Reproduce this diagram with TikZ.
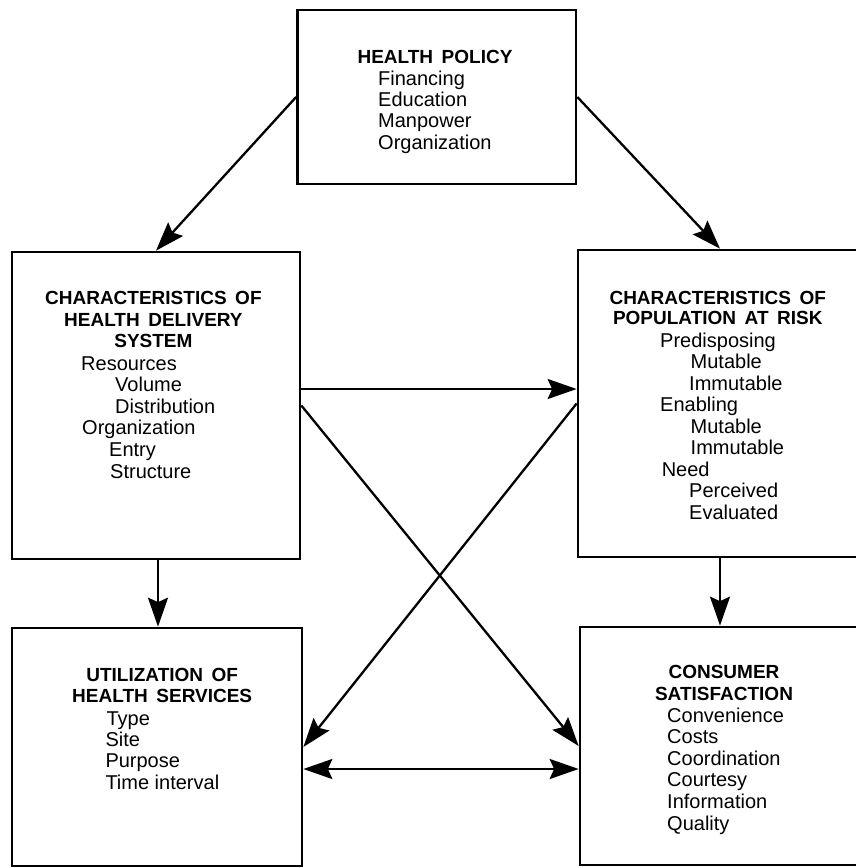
\documentclass[tikz,border=0pt]{standalone}
\usepackage{fontspec}
\setmainfont{Liberation Sans}
\usetikzlibrary{arrows.meta}
\begin{document}
\begin{tikzpicture}[x=1pt,y=1pt,
  box/.style={draw, line width=2.7pt, rectangle, inner sep=0pt},
  arr/.style={line width=2.3pt, -{Stealth[length=29pt,width=20pt,inset=4.5pt]}},
  arrtwo/.style={line width=2.3pt, {Stealth[length=29pt,width=20pt,inset=4.5pt]}-{Stealth[length=29pt,width=20pt,inset=4.5pt]}},
  hd/.style={inner sep=0pt, anchor=base, font=\fontsize{19}{21}\selectfont\bfseries},
  txt/.style={inner sep=0pt, anchor=base west, font=\fontsize{20}{21.5}\selectfont}]
\useasboundingbox (0,0) rectangle (856,-868);
\clip (0,0) rectangle (856,-868);
\fill[white] (0,0) rectangle (856,-868);
% boxes
\node[box, minimum width=278.5pt, minimum height=174pt] (hp) at (436.75,-97) {};
\node[box, minimum width=288pt, minimum height=307pt] (dsys) at (156,-405.5) {};
\node[box, minimum width=284pt, minimum height=307pt] (pop) at (720,-403.5) {};
\node[box, minimum width=290pt, minimum height=238pt] (util) at (157,-747) {};
\node[box, minimum width=282pt, minimum height=238pt] (sat) at (721,-746) {};
% headings
\node[hd] (hph) at (435,-63) {HEALTH\hspace{0.45em}POLICY};
\node[hd] (dh1) at (153.4,-304) {CHARACTERISTICS\hspace{0.45em}OF};
\node[hd] (dh2) at (153.4,-326) {HEALTH\hspace{0.45em}DELIVERY};
\node[hd] (dh3) at (153.4,-347) {SYSTEM};
\node[hd] (ph1) at (717.8,-304) {CHARACTERISTICS\hspace{0.45em}OF};
\node[hd] (ph2) at (717.8,-324.5) {POPULATION\hspace{0.45em}AT\hspace{0.45em}RISK};
\node[hd] (uh1) at (162.2,-681) {UTILIZATION\hspace{0.45em}OF};
\node[hd] (uh2) at (162.2,-702) {HEALTH\hspace{0.45em}SERVICES};
\node[hd] (sh1) at (724,-678) {CONSUMER};
\node[hd] (sh2) at (724,-700) {SATISFACTION};
% item lists
\foreach \t [count=\i] in {Financing,Education,Manpower,Organization}
  \node[txt] (hpt\i) at (378,{-85-21.4*(\i-1)}) {\t};
\foreach \x/\t [count=\i] in {81/Resources,115/Volume,115/Distribution,82/Organization,109/Entry,110/Structure}
  \node[txt] (dst\i) at (\x,{-370-21.6*(\i-1)}) {\t};
\foreach \x/\t [count=\i] in {660/Predisposing,690.5/Mutable,689/Immutable,660/Enabling,690.5/Mutable,690.5/Immutable,661.6/Need,689/Perceived,689/Evaluated}
  \node[txt] (ppt\i) at (\x,{-347-21.5*(\i-1)}) {\t};
\foreach \x/\t [count=\i] in {106.4/Type,105.3/Site,105.3/Purpose,105.3/Time interval}
  \node[txt] (utt\i) at (\x,{-725-21.4*(\i-1)}) {\t};
\foreach \t [count=\i] in {Convenience,Costs,Coordination,Courtesy,Information,Quality}
  \node[txt] (stt\i) at (667,{-722-21.6*(\i-1)}) {\t};
% connectors
\draw[arr] (hp.west) -- (dsys.north);
\draw[arr] (hp.east) -- (pop.north);
\draw[arr] ([yshift=16.5pt]dsys.east) -- ([yshift=16.5pt]dsys.east -| pop.west);
\draw[arr] (dsys.east) -- (sat.west);
\draw[arr] (pop.west) -- (util.east);
\draw[arr] ([xshift=2pt]dsys.south) -- ([xshift=2pt]dsys.south |- util.north);
\draw[arr] (pop.south) -- (pop.south |- sat.north);
\draw[arrtwo] ([yshift=-22pt]util.east) -- ([yshift=-22pt]util.east -| sat.west);
\end{tikzpicture}
\end{document}
